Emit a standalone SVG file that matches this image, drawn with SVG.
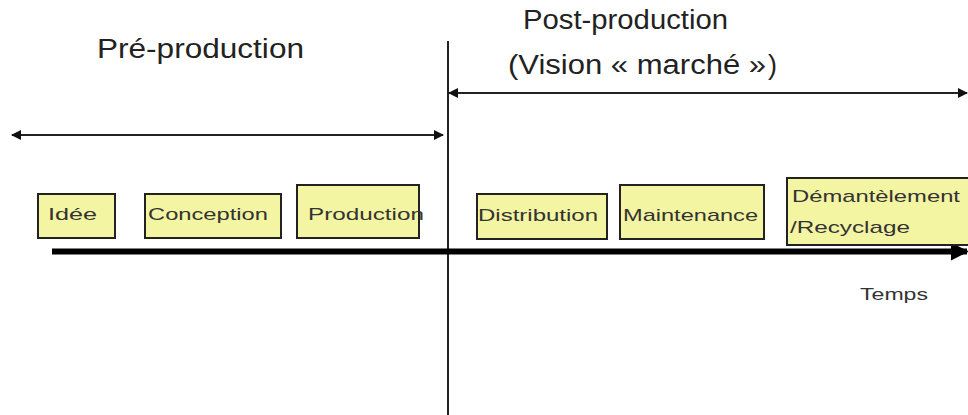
<svg xmlns="http://www.w3.org/2000/svg" width="968" height="415" viewBox="0 0 968 415">
  <defs>
    <marker id="head" viewBox="0 0 10 10" refX="9" refY="5" markerWidth="10" markerHeight="10" markerUnits="userSpaceOnUse" orient="auto-start-reverse">
      <path d="M0,0 L10,5 L0,10 z" fill="#111"/>
    </marker>
    <marker id="bighead" viewBox="0 0 10 10" refX="9" refY="5" markerWidth="3" markerHeight="3" orient="auto">
      <path d="M0,0 L10,5 L0,10 z" fill="#000"/>
    </marker>
  </defs>
  <style>
    .box { fill: #f3f5a2; stroke: #222; stroke-width: 2; }
    .lbl { font-family: "Liberation Sans", Arial, sans-serif; font-size: 17px; fill: #333; }
    .title { font-family: "Liberation Sans", Arial, sans-serif; font-size: 27px; fill: #222; }
    .span { stroke: #222; stroke-width: 2; fill: none; }
  </style>
  <rect width="968" height="415" fill="#ffffff"/>

  <!-- Phase titles -->
  <text class="title" x="97" y="58" textLength="207" lengthAdjust="spacingAndGlyphs">Pré-production</text>
  <text class="title" x="523" y="29" textLength="205" lengthAdjust="spacingAndGlyphs">Post-production</text>
  <text class="title" x="508" y="74" textLength="258" lengthAdjust="spacingAndGlyphs">(Vision « marché »</text>
  <text class="title" x="768" y="74" font-size="16">)</text>

  <!-- Connectors: phase spans, boundary and time axis -->
  <g id="connectors">
    <line class="span" x1="448" y1="41" x2="448" y2="415"/>
    <line class="span" x1="12" y1="135" x2="443" y2="135" marker-start="url(#head)" marker-end="url(#head)"/>
    <line class="span" x1="449" y1="93" x2="967" y2="93" marker-start="url(#head)" marker-end="url(#head)"/>
    <line x1="52" y1="251.5" x2="967" y2="251.5" stroke="#000" stroke-width="6" marker-end="url(#bighead)"/>
  </g>

  <g id="idee">
    <rect class="box" x="38" y="194" width="77" height="44"/>
    <text class="lbl" x="48" y="220" textLength="49" lengthAdjust="spacingAndGlyphs">Idée</text>
  </g>
  <g id="conception">
    <rect class="box" x="145" y="194" width="136" height="44"/>
    <text class="lbl" x="148" y="220" textLength="120" lengthAdjust="spacingAndGlyphs">Conception</text>
  </g>
  <g id="production">
    <rect class="box" x="297" y="185" width="122" height="53"/>
    <text class="lbl" x="308" y="220" textLength="116" lengthAdjust="spacingAndGlyphs">Production</text>
  </g>
  <g id="distribution">
    <rect class="box" x="477" y="194" width="130" height="45"/>
    <text class="lbl" x="478" y="221" textLength="120" lengthAdjust="spacingAndGlyphs">Distribution</text>
  </g>
  <g id="maintenance">
    <rect class="box" x="620" y="185" width="144" height="54"/>
    <text class="lbl" x="623" y="221" textLength="135" lengthAdjust="spacingAndGlyphs">Maintenance</text>
  </g>
  <g id="demantelement">
    <rect class="box" x="787" y="178" width="190" height="67"/>
    <text class="lbl" x="792" y="202" textLength="168" lengthAdjust="spacingAndGlyphs">Démantèlement</text>
    <text class="lbl" x="790" y="233" textLength="120" lengthAdjust="spacingAndGlyphs">/Recyclage</text>
  </g>

  <text class="lbl" x="860" y="300" font-size="15" textLength="68" lengthAdjust="spacingAndGlyphs">Temps</text>
</svg>
